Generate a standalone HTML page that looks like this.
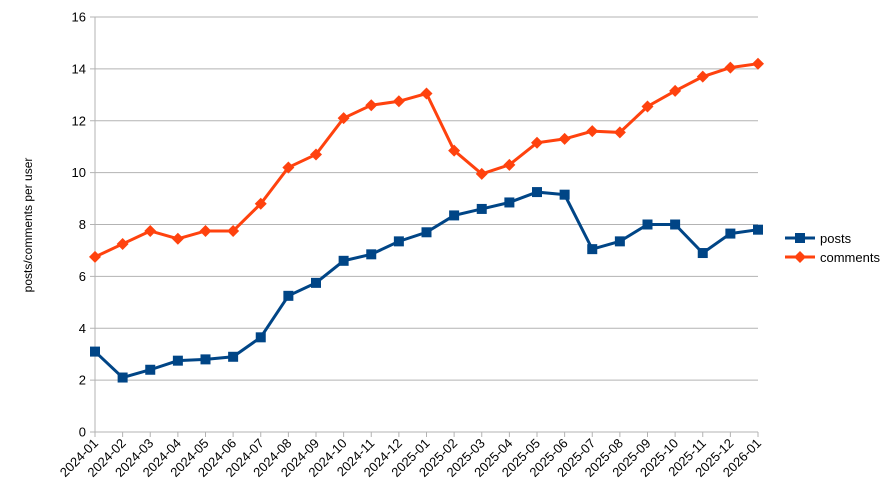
<!DOCTYPE html>
<html><head><meta charset="utf-8"><style>body{margin:0;background:#fff}svg{display:block}text{font-family:"Liberation Sans",sans-serif;font-size:13px;fill:#000}</style></head>
<body>
<svg width="892" height="496" xmlns="http://www.w3.org/2000/svg" id="s"></svg>
<script>
const s=document.getElementById('s');
const x0=95,x1=758,y0=432,y1=17;
const X=i=>x0+i*(x1-x0)/24, Y=v=>y0-v*(y0-y1)/16;
let h='';
for(let v=0;v<=16;v+=2){const y=Y(v);h+=`<line x1="${x0-5}" x2="${x1}" y1="${y}" y2="${y}" stroke="#b3b3b3"/>`;h+=`<text x="${x0-9}" y="${y+4.5}" text-anchor="end">${v}</text>`;}
h+=`<line x1="${x0}" x2="${x0}" y1="${y1}" y2="${y0+5}" stroke="#b3b3b3"/>`;
const labels=[];for(let i=0;i<25;i++){const yr=2024+Math.floor(i/12),m=i%12+1;labels.push(yr+'-'+String(m).padStart(2,'0'));}
labels.forEach((l,i)=>{const x=X(i);h+=`<line x1="${x}" x2="${x}" y1="${y0}" y2="${y0+5}" stroke="#b3b3b3"/>`;h+=`<text transform="translate(${x+4},${y0+12}) rotate(-45)" text-anchor="end">${l}</text>`;});
const posts=[3.1,2.1,2.4,2.75,2.8,2.9,3.65,5.25,5.75,6.6,6.85,7.35,7.7,8.35,8.6,8.85,9.25,9.15,7.05,7.35,8.0,8.0,6.9,7.65,7.8];
const com=[6.75,7.25,7.75,7.45,7.75,7.75,8.8,10.2,10.7,12.1,12.6,12.75,13.05,10.85,9.95,10.3,11.15,11.3,11.6,11.55,12.55,13.15,13.7,14.05,14.2];
h+=`<polyline fill="none" stroke="#004586" stroke-width="3" points="${posts.map((v,i)=>X(i)+','+Y(v)).join(' ')}"/>`;
posts.forEach((v,i)=>h+=`<rect x="${X(i)-5}" y="${Y(v)-5}" width="10" height="10" fill="#004586"/>`);
h+=`<polyline fill="none" stroke="#ff420e" stroke-width="3" points="${com.map((v,i)=>X(i)+','+Y(v)).join(' ')}"/>`;
com.forEach((v,i)=>{const x=X(i),y=Y(v);h+=`<polygon points="${x},${y-6} ${x+6},${y} ${x},${y+6} ${x-6},${y}" fill="#ff420e"/>`;});
h+=`<text transform="translate(32,225) rotate(-90)" text-anchor="middle" style="font-size:12px">posts/comments per user</text>`;
h+=`<line x1="785" x2="815" y1="238" y2="238" stroke="#004586" stroke-width="3"/><rect x="795" y="233" width="10" height="10" fill="#004586"/><text x="820" y="243">posts</text>`;
h+=`<line x1="785" x2="815" y1="257" y2="257" stroke="#ff420e" stroke-width="3"/><polygon points="800,251 806,257 800,263 794,257" fill="#ff420e"/><text x="820" y="262">comments</text>`;
s.innerHTML=h;
</script>
</body></html>
